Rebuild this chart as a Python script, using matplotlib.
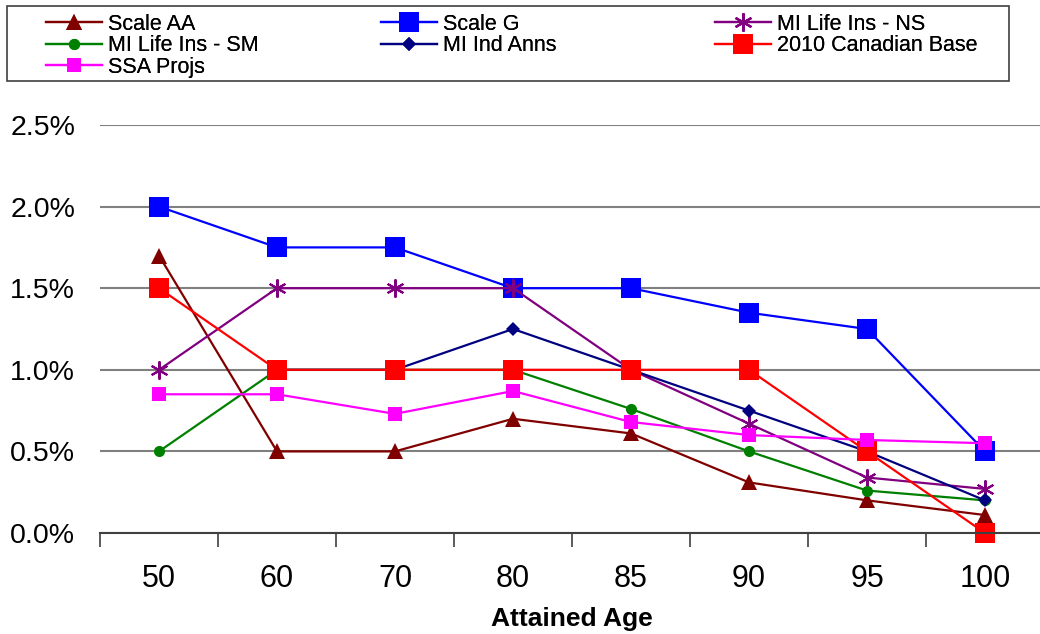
import numpy as np
import matplotlib
matplotlib.use("Agg")
import matplotlib.pyplot as plt
from matplotlib.patches import Rectangle

plt.rcParams['font.family'] = ['Liberation Sans', 'DejaVu Sans']

ages = ["50", "60", "70", "80", "85", "90", "95", "100"]

scale_aa = [1.70, 0.50, 0.50, 0.70, 0.61, 0.31, 0.20, 0.11]
scale_g = [2.00, 1.75, 1.75, 1.50, 1.50, 1.35, 1.25, 0.50]
mi_life_ns = [1.00, 1.50, 1.50, 1.50, 1.00, 0.67, 0.34, 0.27]
mi_life_sm = [0.50, 1.00, 1.00, 1.00, 0.76, 0.50, 0.26, 0.20]
mi_ind_anns = [np.nan, 1.00, 1.00, 1.25, 1.00, 0.75, 0.50, 0.20]
canadian_2010 = [1.50, 1.00, 1.00, 1.00, 1.00, 1.00, 0.50, 0.00]
ssa_projs = [0.85, 0.85, 0.73, 0.87, 0.68, 0.60, 0.57, 0.55]

# Excel-like series styles: (label, values, color, marker, size)
series = [
    ("Scale AA", scale_aa, "#800000", "^", 11),
    ("Scale G", scale_g, "#0000FF", "s", 14),
    ("MI Life Ins - NS", mi_life_ns, "#800080", (6, 2, 0), 13),
    ("MI Life Ins - SM", mi_life_sm, "#008000", "o", 8),
    ("MI Ind Anns", mi_ind_anns, "#000080", "D", 7.5),
    ("2010 Canadian Base", canadian_2010, "#FF0000", "s", 14),
    ("SSA Projs", ssa_projs, "#FF00FF", "s", 9.5),
]

fig = plt.figure(figsize=(10.4, 6.34), dpi=100)
ax = fig.add_axes([100 / 1040, 101 / 634, 944 / 1040, 408 / 634])

x = np.arange(len(ages))
handles = {}
for label, vals, color, marker, ms in series:
    mew = 1.5 if marker == (6, 2, 0) else 0
    h, = ax.plot(x, np.array(vals) / 100, color=color, lw=1.6, marker=marker,
                 ms=ms, mec=color, mfc=color, mew=mew, label=label, clip_on=False)
    handles[label] = h

ax.set_xlim(-0.5, len(ages) - 0.5)
ax.set_ylim(0, 0.025)
ax.set_yticks(np.arange(0, 0.0251, 0.005))
ax.set_yticklabels([f"{v * 100:.1f}%" for v in np.arange(0, 0.0251, 0.005)], fontsize=20.5)
ax.tick_params(axis="y", length=0, pad=18)
ax.yaxis.grid(True, color="#808080", lw=1.5)
ax.set_axisbelow(True)

ax.set_xticks(np.arange(-0.5, len(ages), 1.0))
ax.set_xticklabels([])
ax.set_xticks(x, minor=True)
ax.set_xticklabels(ages, minor=True, fontsize=22)
ax.tick_params(axis="x", which="major", length=10, width=1.2, color="#404040", direction="out")
ax.tick_params(axis="x", which="minor", length=0, pad=22)

for s in ["left", "right", "top"]:
    ax.spines[s].set_visible(False)
ax.spines["bottom"].set_color("#404040")
ax.spines["bottom"].set_linewidth(1.5)

fig.text(572 / 1040, 1 - 619 / 634, "Attained Age", ha="center", va="center",
         fontsize=19, fontweight="bold")

# legend frame + three columns placed like Excel
fig.patches.append(Rectangle((7 / 1040, 1 - 81 / 634), 1002 / 1040, 75 / 634,
                             transform=fig.transFigure, fill=False,
                             edgecolor="#404040", lw=1.2))
columns = [
    (["Scale AA", "MI Life Ins - SM", "SSA Projs"], 46),
    (["Scale G", "MI Ind Anns"], 381),
    (["MI Life Ins - NS", "2010 Canadian Base"], 715),
]
for labels, xpx in columns:
    leg = fig.legend([handles[l] for l in labels], labels, loc="upper left",
                     bbox_to_anchor=(xpx / 1040, 1 - 14 / 634), frameon=False,
                     fontsize=15.5, handlelength=2.6, handletextpad=0.3,
                     labelspacing=0.02, borderpad=0, borderaxespad=0)
    fig.add_artist(leg)

fig.savefig("out.png", dpi=100)
